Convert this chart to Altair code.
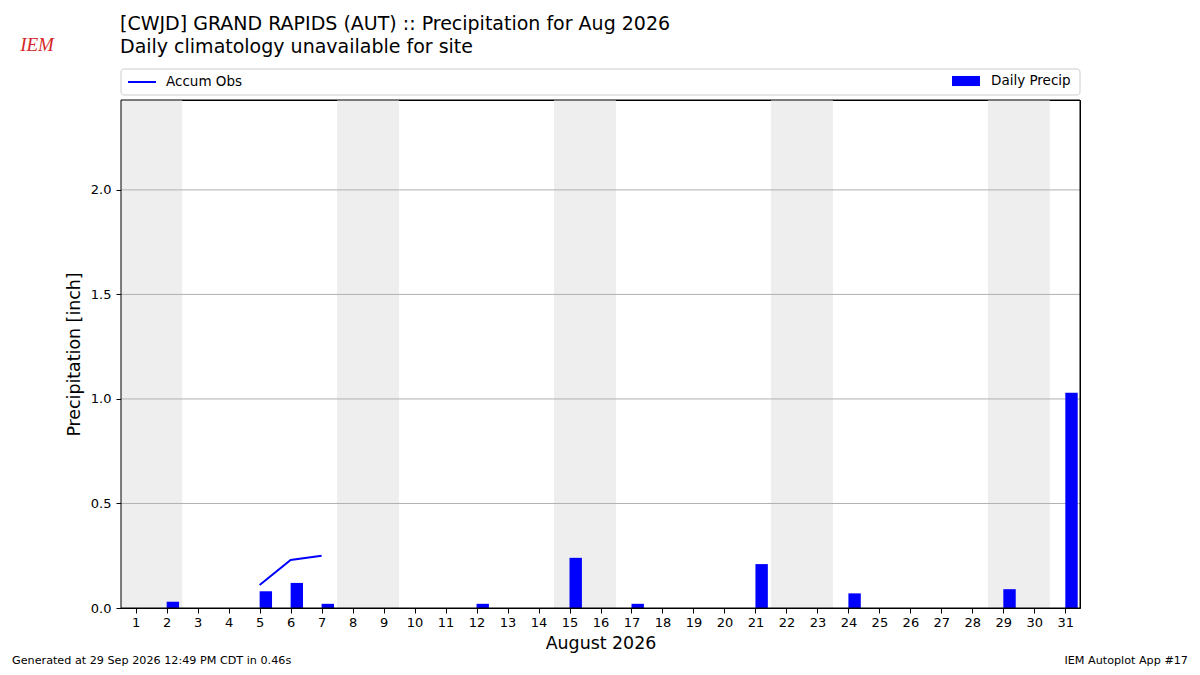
import altair as alt
import pandas as pd

# daily precipitation, Aug 2026 (inch)
days = list(range(1, 32))
precip = [0.00, 0.03, 0.00, 0.00, 0.08, 0.12, 0.02, 0.00, 0.00, 0.00,
          0.00, 0.02, 0.00, 0.00, 0.24, 0.00, 0.02, 0.00, 0.00, 0.00,
          0.21, 0.00, 0.00, 0.07, 0.00, 0.00, 0.00, 0.00, 0.09, 0.00,
          1.03]

# accumulated observed precip
accum_days = [5, 6, 7]
accum_vals = [0.11, 0.23, 0.25]

# weekend shading
weekend_start = [0.5, 7.5, 14.5, 21.5, 28.5]
weekend_end = [2.5, 9.5, 16.5, 23.5, 30.5]

y_ticks = [0.0, 0.5, 1.0, 1.5, 2.0]
grid_vals = [0.5, 1.0, 1.5, 2.0]

title_line1 = "[CWJD] GRAND RAPIDS (AUT) :: Precipitation for Aug 2026"
title_line2 = "Daily climatology unavailable for site"
footer_left = "Generated at 29 Sep 2026 12:49 PM CDT in 0.46s"
footer_right = "IEM Autoplot App #17"

W, H = 959, 508
FONT = "DejaVu Sans"

x_scale = alt.Scale(domain=[0.526, 31.474], nice=False, zero=False)
y_scale = alt.Scale(domain=[0, 2.43], nice=False)

x_axis = alt.Axis(values=days, labelAngle=0, tickSize=5, labelPadding=3,
                  labelOverlap=False, labelFlush=False, format="d",
                  title="August 2026", titleFontSize=17.4, titleFontWeight="normal",
                  titlePadding=5, grid=False)
y_axis = alt.Axis(values=y_ticks, format=".1f", tickSize=5, labelPadding=5,
                  labelFlush=False, labelOverlap=False,
                  title="Precipitation [inch]", titleFontSize=17.4,
                  titleFontWeight="normal", titlePadding=7, grid=False)

daily = pd.DataFrame({"day": days, "precip": precip})
accum = pd.DataFrame({"day": accum_days, "accum": accum_vals})
weekends = pd.DataFrame({"start": weekend_start, "end": weekend_end})
grid = pd.DataFrame({"y": grid_vals})
one = pd.DataFrame({"a": [0]})

shade = alt.Chart(weekends).mark_rect(color="#eeeeee", clip=True).encode(
    x=alt.X("start:Q", scale=x_scale, axis=x_axis),
    x2="end:Q",
)

grid_lines = alt.Chart(grid).mark_rule(color="#b0b0b0", strokeWidth=1).encode(
    y=alt.Y("y:Q", scale=y_scale, axis=y_axis)
)

bars = alt.Chart(daily).transform_calculate(
    day_end="datum.day + 0.4", series="'Daily Precip'"
).mark_rect().encode(
    x=alt.X("day:Q", scale=x_scale, axis=x_axis),
    x2="day_end:Q",
    y=alt.Y("precip:Q", scale=y_scale, axis=y_axis),
    y2=alt.datum(0),
    fill=alt.Fill("series:N",
                  scale=alt.Scale(domain=["Daily Precip"], range=["blue"]),
                  legend=alt.Legend(orient="none", legendX=831, legendY=-33, title=None,
                                    symbolType="M-1,-0.36H1V0.36H-1Z", symbolSize=784,
                                    symbolStrokeWidth=0, labelOffset=11,
                                    labelFontSize=13.5, labelFont=FONT, labelColor="black")),
)

line = alt.Chart(accum).transform_calculate(
    series="'Accum Obs'"
).mark_line(strokeWidth=2).encode(
    x=alt.X("day:Q", scale=x_scale, axis=x_axis),
    y=alt.Y("accum:Q", scale=y_scale, axis=y_axis),
    stroke=alt.Stroke("series:N",
                      scale=alt.Scale(domain=["Accum Obs"], range=["blue"]),
                      legend=alt.Legend(orient="none", legendX=6, legendY=-33, title=None,
                                        symbolType="stroke", symbolSize=784,
                                        symbolStrokeWidth=2, labelOffset=9,
                                        labelFontSize=13.5, labelFont=FONT, labelColor="black")),
)

legend_box = alt.Chart(one).mark_rect(
    fill="white", stroke="#cccccc", strokeWidth=1, cornerRadius=3
).encode(x=alt.value(0), x2=alt.value(W), y=alt.value(-31), y2=alt.value(-5))

# axes frame drawn above the weekend shading
frame = alt.Chart(one).mark_rect(
    fill=None, stroke="black", strokeWidth=1
).encode(x=alt.value(0), x2=alt.value(W), y=alt.value(0), y2=alt.value(H))


def label(text, x, y, size, align="left", **kw):
    return alt.Chart(one).mark_text(
        text=text, align=align, baseline="alphabetic", fontSize=size,
        font=kw.pop("font", FONT), color=kw.pop("color", "black"), **kw
    ).encode(x=alt.value(x), y=alt.value(y))


title1 = label(title_line1, -1, -70, 19)
title2 = label(title_line2, -1, -47, 19)
foot_l = label(footer_left, -109, 564, 11.2)
foot_r = label(footer_right, 1067, 564, 11.2, align="right")
logo = label("IEM", -84, -49, 19, align="center", font="Liberation Serif",
             color="#d62728", fontStyle="italic")

chart = alt.layer(
    legend_box, shade, grid_lines, bars, line, frame,
    title1, title2, foot_l, foot_r, logo
).resolve_legend(
    fill="independent", stroke="independent"
).properties(
    width=W, height=H,
    autosize=alt.AutoSizeParams(type="none"),
    padding={"left": 113, "top": 92, "right": 112, "bottom": 59},
    background="white",
).configure_view(
    stroke="black", strokeWidth=1
).configure_axis(
    domainColor="black", tickColor="black", labelColor="black", titleColor="black",
    labelFontSize=13, labelFont=FONT, titleFont=FONT, domain=True
).configure_axisX(
    labelOverlap=False
)

chart.save("out.html", embed_options={"renderer": "svg", "actions": False})
